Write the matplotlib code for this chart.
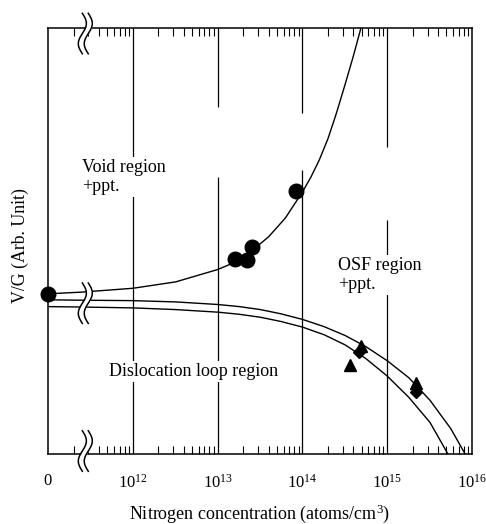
import numpy as np
import matplotlib
matplotlib.use("Agg")
import matplotlib.pyplot as plt

plt.rcParams['font.family'] = ['Liberation Serif', 'DejaVu Serif']
plt.rcParams['mathtext.fontset'] = 'custom'
plt.rcParams['mathtext.rm'] = 'Liberation Serif'
plt.rcParams['mathtext.it'] = 'Liberation Serif:italic'

# N = 0 sits at this place of the log axis, the axis break just right of it
ZERO_POS = 11.0
BREAK_POS = 11.44

# void / ppt boundary (upper curve), N in atoms/cm3, V/G in arb. units
void_n = [0, 2.5e11, 1e12, 3.2e12, 1e13, 1.6e13, 2.5e13, 4e13, 6.3e13, 1e14,
          1.26e14, 1.58e14, 2e14, 2.5e14, 3.16e14, 4e14, 4.9e14]
void_vg = [37.6, 38.0, 38.9, 40.4, 43.3, 45.0, 47.6, 51.0, 55.4, 61.5,
           65.0, 69.0, 74.0, 79.8, 86.5, 93.5, 100.0]

# OSF ring boundaries (the two lower curves)
osf_hi_n = [0, 2.5e11, 1e12, 3.2e12, 1e13, 1.8e13, 3.2e13, 5.6e13, 1e14, 1.8e14,
            3.2e14, 5.6e14, 1e15, 1.8e15, 3.2e15, 5.6e15, 8.3e15]
osf_hi_vg = [36.2, 36.1, 36.0, 35.7, 35.1, 34.6, 33.9, 32.9, 31.6, 29.9,
             27.8, 25.2, 21.9, 17.9, 12.6, 6.0, 0.0]
osf_lo_n = [0, 2.5e11, 1e12, 3.2e12, 1e13, 1.8e13, 3.2e13, 5.6e13, 1e14, 1.8e14,
            3.2e14, 5.6e14, 1e15, 1.8e15, 3.2e15, 5.2e15]
osf_lo_vg = [34.6, 34.5, 34.3, 33.9, 33.3, 32.8, 32.1, 31.1, 29.8, 28.0,
             25.6, 22.4, 18.3, 13.3, 7.4, 0.0]

# measured points
circle_n = [0, 1.6e13, 2.2e13, 2.55e13, 8.4e13]
circle_vg = [37.6, 45.8, 45.5, 48.7, 61.7]
tri_n = [3.66e14, 4.9e14, 2.2e15]
tri_vg = [20.9, 25.4, 16.6]
diam_n = [4.7e14, 2.2e15]
diam_vg = [24.0, 14.6]

tick_pos = [11, 12, 13, 14, 15, 16]
tick_lab = ['0', '$10^{12}$', '$10^{13}$', '$10^{14}$', '$10^{15}$', '$10^{16}$']

# decade lines and the stretches where the scan lost them (V/G units)
grid_pos = [12, 13, 14, 15]
grid_gaps = [[], [(65.0, 81.5)], [(66.7, 80.0)], [(54.9, 72.1)]]


def xpos(n):
    n = np.asarray(n, dtype=float)
    return np.where(n > 0, np.log10(np.where(n > 0, n, 1.0)), ZERO_POS)


fig = plt.figure(figsize=(4.86, 5.24), dpi=100)
ax = fig.add_axes([48 / 486, 70 / 524, 424 / 486, 426 / 524])
ax.set_xlim(ZERO_POS, 16)
ax.set_ylim(0, 100)

for s in ax.spines.values():
    s.set_linewidth(1.1)

for d, gaps in zip(grid_pos, grid_gaps):
    edges = [0.0]
    for lo, hi in gaps:
        edges += [lo, hi]
    edges.append(100.0)
    for y0, y1 in zip(edges[::2], edges[1::2]):
        ax.vlines(d, y0, y1, color='black', lw=0.9, zorder=1)

ax.plot(xpos(void_n), void_vg, color='black', lw=1.0, zorder=3)
ax.plot(xpos(osf_hi_n), osf_hi_vg, color='black', lw=1.0, zorder=3)
ax.plot(xpos(osf_lo_n), osf_lo_vg, color='black', lw=1.0, zorder=3)

ax.plot(xpos(circle_n), circle_vg, 'o', color='black', ms=10.5, zorder=7, clip_on=False)
ax.plot(xpos(tri_n), tri_vg, '^', color='black', ms=8.5, zorder=7)
ax.plot(xpos(diam_n), diam_vg, 'D', color='black', ms=6.5, zorder=7)

# ticks
ax.set_xticks(tick_pos)
ax.set_xticklabels(tick_lab, fontsize=12)
minor = [np.log10(m * 10.0 ** e) for e in range(11, 16) for m in range(2, 10)]
ax.set_xticks(minor, minor=True)
ax.tick_params(axis='x', which='major', length=0, pad=14)
ax.tick_params(axis='x', which='minor', direction='in', length=6, width=0.8,
               top=True, bottom=True)
ax.set_yticks([])

ax.set_xlabel('Nitrogen concentration (atoms/cm$^3$)', fontsize=13, labelpad=8)
ax.set_ylabel('V/G (Arb. Unit)', fontsize=12.8)
ax.yaxis.set_label_coords(-0.045, 0.49)

box = dict(facecolor='white', edgecolor='none', pad=1.5)
ax.text(11.40, 69.2, 'Void region\n+ppt.', fontsize=13, ha='left', va='top',
        linespacing=1.15, bbox=box, zorder=4)
ax.text(14.42, 46.3, 'OSF region\n+ppt.', fontsize=13, ha='left', va='top',
        linespacing=1.15, bbox=box, zorder=4)
ax.text(11.72, 21.3, 'Dislocation loop region', fontsize=13, ha='left', va='top',
        bbox=box, zorder=4)


def draw_break(yc, h=0.095, amp=0.0095, gap=0.014):
    xc = (BREAK_POS - ZERO_POS) / (16 - ZERO_POS)
    t = np.linspace(0, 1, 80)
    yy = yc + h / 2 - h * t
    xx = xc + amp * np.sin(2 * np.pi * t)
    ax.fill_betweenx(yy, xx - gap / 2, xx + gap / 2, color='white',
                     transform=ax.transAxes, zorder=5, clip_on=False, lw=0)
    for off in (-gap / 2, gap / 2):
        ax.plot(xx + off, yy, color='black', lw=1.1, transform=ax.transAxes,
                zorder=6, clip_on=False)


draw_break(0.987)
draw_break(0.354)
draw_break(0.007)

fig.savefig('out.png', dpi=100)
